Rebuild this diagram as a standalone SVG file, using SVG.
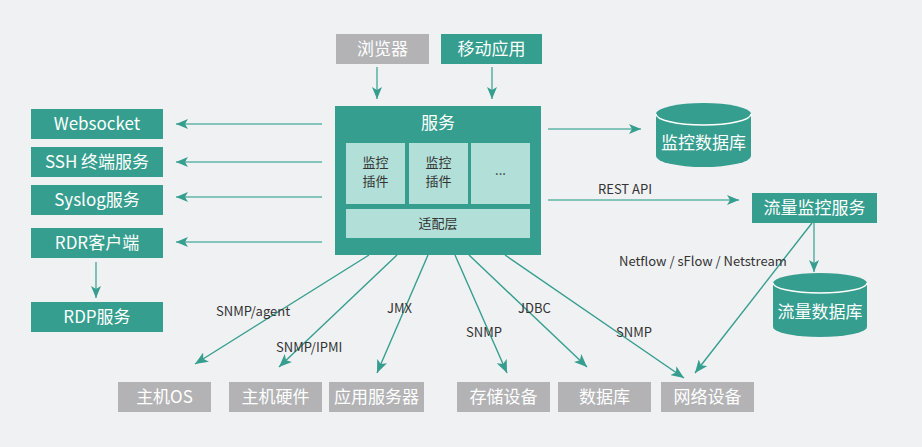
<svg xmlns="http://www.w3.org/2000/svg" width="922" height="447" viewBox="0 0 922 447">
<defs>
<style>
.t{fill:#359e8f}
.g{fill:#b3b3b6}
.l{fill:#b2dfd8}
.bt{font-family:"Noto Sans CJK SC","Noto Sans",sans-serif;font-size:17px;font-weight:400;fill:#fff;text-anchor:middle}
.it{font-family:"Noto Sans CJK SC","Noto Sans",sans-serif;font-size:13px;fill:#333;text-anchor:middle}
.lb{font-family:"Noto Sans CJK SC","Noto Sans",sans-serif;font-size:13px;fill:#333}
.ah{stroke:#62b4a9;stroke-width:1.6;fill:none}
.ad{stroke:#359e8f;stroke-width:1.4;fill:none}
</style>
<marker id="m1" viewBox="0 0 12 10" markerWidth="12" markerHeight="10" refX="12" refY="5" orient="auto" markerUnits="userSpaceOnUse"><path d="M0,0 L12,5 L0,10 L3,5 z" fill="#359e8f"/></marker>
<marker id="m2" viewBox="0 0 12 10" markerWidth="13" markerHeight="11" refX="12" refY="5" orient="auto" markerUnits="userSpaceOnUse"><path d="M0,0 L12,5 L0,10 L3,5 z" fill="#359e8f"/></marker>
</defs>
<rect width="922" height="447" fill="#f0f1f3"/>

<g id="connectors">
<line class="ah" x1="322" y1="124" x2="176" y2="124" marker-end="url(#m1)"/>
<line class="ah" x1="322" y1="162" x2="176" y2="162" marker-end="url(#m1)"/>
<line class="ah" x1="322" y1="197" x2="176" y2="197" marker-end="url(#m1)"/>
<line class="ah" x1="322" y1="242" x2="176" y2="242" marker-end="url(#m1)"/>
<line class="ah" x1="96" y1="262" x2="96" y2="298" marker-end="url(#m1)"/>
<line class="ah" x1="377" y1="67" x2="377" y2="99" marker-end="url(#m1)"/>
<line class="ah" x1="492" y1="67" x2="492" y2="99" marker-end="url(#m1)"/>
<line class="ah" x1="548" y1="129" x2="641" y2="129" marker-end="url(#m1)"/>
<line class="ah" x1="548" y1="200" x2="739" y2="200" marker-end="url(#m1)"/>
<line class="ah" x1="814" y1="223" x2="814" y2="272" marker-end="url(#m1)"/>
<line class="ad" x1="369" y1="255" x2="195" y2="364" marker-end="url(#m2)"/>
<line class="ad" x1="397" y1="255" x2="279" y2="367" marker-end="url(#m2)"/>
<line class="ad" x1="428" y1="255" x2="377" y2="373" marker-end="url(#m2)"/>
<line class="ad" x1="455" y1="255" x2="507" y2="373" marker-end="url(#m2)"/>
<line class="ad" x1="469" y1="255" x2="587" y2="367" marker-end="url(#m2)"/>
<line class="ad" x1="505" y1="255" x2="684" y2="378" marker-end="url(#m2)"/>
<line class="ad" x1="812" y1="223" x2="695" y2="373" marker-end="url(#m2)"/>
<text class="lb" x="216" y="316">SNMP/agent</text>
<text class="lb" x="276" y="352">SNMP/IPMI</text>
<text class="lb" x="387" y="313">JMX</text>
<text class="lb" x="466" y="337">SNMP</text>
<text class="lb" x="518" y="313">JDBC</text>
<text class="lb" x="616" y="337">SNMP</text>
<text class="lb" x="598" y="194">REST API</text>
<text class="lb" x="619" y="266">Netflow / sFlow / Netstream</text>
</g>

<g id="websocket"><rect class="t" x="31" y="109" width="132" height="30"/><text class="bt" x="97" y="130">Websocket</text></g>
<g id="ssh"><rect class="t" x="31" y="147" width="132" height="30"/><text class="bt" x="97" y="168">SSH 终端服务</text></g>
<g id="syslog"><rect class="t" x="31" y="185" width="132" height="30"/><text class="bt" x="97" y="206">Syslog服务</text></g>
<g id="rdr"><rect class="t" x="31" y="228" width="132" height="30"/><text class="bt" x="97" y="249">RDR客户端</text></g>
<g id="rdp"><rect class="t" x="31" y="302" width="132" height="30"/><text class="bt" x="97" y="323">RDP服务</text></g>

<g id="browser"><rect class="g" x="336" y="34" width="93" height="30"/><text class="bt" x="382.5" y="55">浏览器</text></g>
<g id="mobile"><rect class="t" x="441" y="34" width="101" height="30"/><text class="bt" x="491.5" y="55">移动应用</text></g>

<g id="service">
<rect class="t" x="335" y="106" width="206" height="149"/>
<text class="bt" x="438" y="129">服务</text>
<rect class="l" x="346" y="143" width="59" height="61"/>
<text class="it" x="375.5" y="167">监控</text><text class="it" x="375.5" y="186">插件</text>
<rect class="l" x="409" y="143" width="59" height="61"/>
<text class="it" x="438.5" y="167">监控</text><text class="it" x="438.5" y="186">插件</text>
<rect class="l" x="471" y="143" width="59" height="61"/>
<text class="it" x="500.5" y="175">...</text>
<rect class="l" x="346" y="209" width="184" height="29"/>
<text class="it" x="438" y="228">适配层</text>
</g>

<g id="monitor-db">
<path class="t" d="M656,114 A47.5,11 0 0 1 751,114 L751,156 A47.5,11 0 0 1 656,156 Z"/>
<path d="M656,114 A47.5,11 0 0 0 751,114" fill="none" stroke="#fff" stroke-width="1.5"/>
<text class="bt" x="703.5" y="149">监控数据库</text>
</g>

<g id="flow-service"><rect class="t" x="752" y="193" width="125" height="30"/><text class="bt" x="814.5" y="214">流量监控服务</text></g>

<g id="flow-db">
<path class="t" d="M773,283 A47,10 0 0 1 867,283 L867,327 A47,10 0 0 1 773,327 Z"/>
<path d="M773,283 A47,10 0 0 0 867,283" fill="none" stroke="#fff" stroke-width="1.5"/>
<text class="bt" x="820" y="318">流量数据库</text>
</g>

<g id="host-os"><rect class="g" x="118" y="382" width="93" height="30"/><text class="bt" x="164.5" y="403">主机OS</text></g>
<g id="host-hw"><rect class="g" x="229" y="382" width="93" height="30"/><text class="bt" x="275.5" y="403">主机硬件</text></g>
<g id="app-server"><rect class="g" x="329" y="382" width="95" height="30"/><text class="bt" x="376.5" y="403">应用服务器</text></g>
<g id="storage"><rect class="g" x="457" y="382" width="93" height="30"/><text class="bt" x="503.5" y="403">存储设备</text></g>
<g id="database"><rect class="g" x="558" y="382" width="93" height="30"/><text class="bt" x="604.5" y="403">数据库</text></g>
<g id="network"><rect class="g" x="661" y="382" width="93" height="30"/><text class="bt" x="707.5" y="403">网络设备</text></g>
</svg>
